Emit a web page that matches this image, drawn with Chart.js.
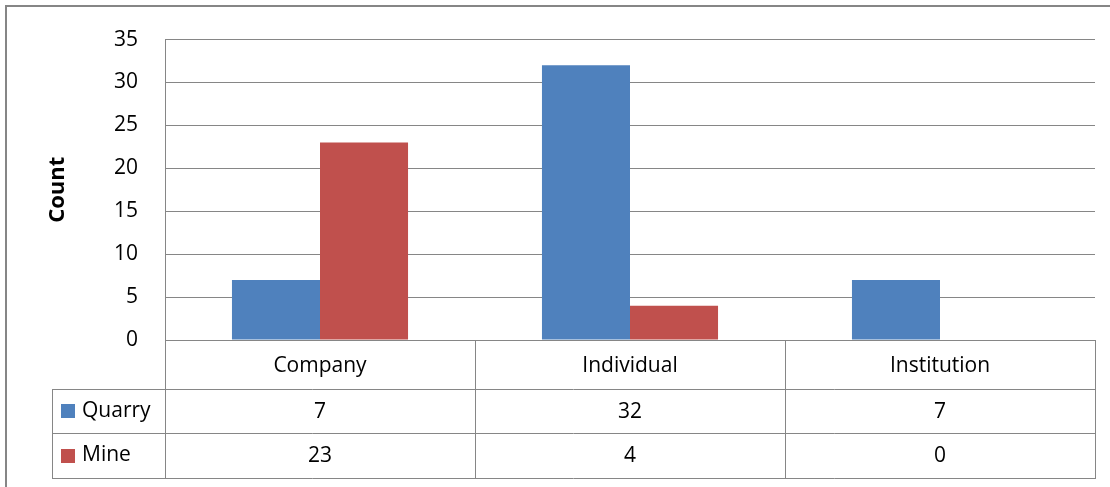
<!DOCTYPE html>
<html>
<head>
<meta charset="utf-8">
<script src="https://cdn.jsdelivr.net/npm/chart.js@4"></script>
<style>
  html, body { margin: 0; padding: 0; background: #fff; }
  #wrap { width: 1110px; height: 487px; position: relative; }
</style>
</head>
<body>
<div id="wrap"><canvas id="chart"></canvas></div>
<script>
// Data
const categories = ['Company', 'Individual', 'Institution'];
const quarryCounts = [7, 32, 7];
const mineCounts = [23, 4, 0];
const seriesNames = ['Quarry', 'Mine'];
const seriesColors = ['#4F81BD', '#C0504D'];

const FONT = '"Open Sans", Lato, sans-serif';
const GRID = '#868686';

// Data table under the plot + outer frame
const tablePlugin = {
    id: 'dataTable',
    afterDraw(chart) {
        const ctx = chart.ctx;
        const area = chart.chartArea;
        const x = chart.scales.x;
        const left = area.left, right = area.right;
        const rowTop = area.bottom;
        const rows = [rowTop, rowTop + 49, rowTop + 93, rowTop + 138];
        const legendLeft = 52;
        const colW = (right - left) / categories.length;

        ctx.save();
        ctx.strokeStyle = GRID;
        ctx.lineWidth = 1;
        ctx.beginPath();
        // horizontal lines
        ctx.moveTo(left, rows[0] + 0.5); ctx.lineTo(right, rows[0] + 0.5);
        for (let i = 1; i < rows.length; i++) {
            ctx.moveTo(legendLeft, rows[i] + 0.5); ctx.lineTo(right, rows[i] + 0.5);
        }
        // vertical lines
        ctx.moveTo(left + 0.5, area.top); ctx.lineTo(left + 0.5, rows[3] + 1);
        for (let i = 1; i <= categories.length; i++) {
            const cx = Math.round(left + colW * i) + 0.5;
            ctx.moveTo(cx, rows[0]); ctx.lineTo(cx, rows[3] + 1);
        }
        ctx.moveTo(legendLeft + 0.5, rows[1]); ctx.lineTo(legendLeft + 0.5, rows[3] + 1);
        ctx.stroke();

        // outer frame (left and top visible)
        ctx.lineWidth = 2;
        ctx.beginPath();
        ctx.moveTo(6, 487); ctx.lineTo(6, 6); ctx.lineTo(1110, 6);
        ctx.stroke();

        ctx.fillStyle = '#000';
        ctx.font = '21px ' + FONT;
        ctx.textAlign = 'center';
        ctx.textBaseline = 'middle';
        categories.forEach((c, i) => {
            const cx = x.getPixelForValue(i);
            ctx.fillText(c, cx, (rows[0] + rows[1]) / 2 + 2);
            ctx.fillText(String(quarryCounts[i]), cx, (rows[1] + rows[2]) / 2 + 1);
            ctx.fillText(String(mineCounts[i]), cx, (rows[2] + rows[3]) / 2 + 1);
        });

        // legend keys
        ctx.textAlign = 'left';
        seriesNames.forEach((name, i) => {
            const mid = (rows[i + 1] + rows[i + 2]) / 2;
            ctx.fillStyle = seriesColors[i];
            ctx.fillRect(61, Math.round(mid - 7), 14, 14);
            ctx.fillStyle = '#000';
            ctx.fillText(name, 82, mid);
        });
        ctx.restore();
    }
};

const chart = new Chart(document.getElementById('chart'), {
    type: 'bar',
    data: {
        labels: categories,
        datasets: [{
            label: seriesNames[0],
            data: quarryCounts,
            backgroundColor: seriesColors[0]
        }, {
            label: seriesNames[1],
            data: mineCounts,
            backgroundColor: seriesColors[1]
        }]
    },
    options: {
        responsive: true,
        maintainAspectRatio: false,
        animation: false,
        categoryPercentage: 0.568,
        barPercentage: 1,
        layout: {
            padding: { top: 38, right: 15, bottom: 147, left: 0 }
        },
        plugins: {
            legend: { display: false },
            tooltip: { enabled: false }
        },
        scales: {
            x: {
                display: false
            },
            y: {
                min: 0,
                max: 35,
                ticks: {
                    stepSize: 5,
                    padding: 27,
                    color: '#000',
                    font: { family: FONT, size: 21 }
                },
                grid: {
                    color: GRID,
                    drawTicks: false
                },
                border: { display: false },
                title: {
                    display: true,
                    text: 'Count',
                    color: '#000',
                    font: { family: FONT, size: 22, weight: 'bold' },
                    padding: { top: 45, bottom: 0 }
                },
                afterFit(scale) {
                    scale.width = 165;
                }
            }
        }
    },
    plugins: [tablePlugin]
});
</script>
</body>
</html>
